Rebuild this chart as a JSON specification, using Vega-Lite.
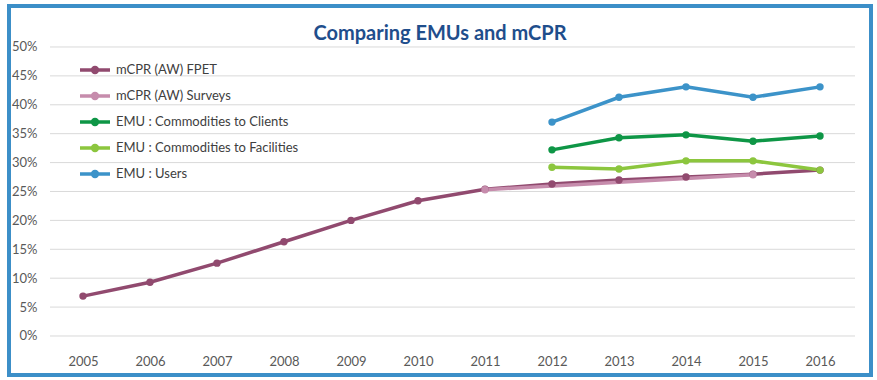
{
  "$schema": "https://vega.github.io/schema/vega-lite/v6.json",
  "width": 862,
  "height": 369,
  "autosize": {"type": "none"},
  "padding": {"left": 9, "top": 6, "right": 6, "bottom": 5},
  "background": "white",
  "title": {
    "text": "Comparing EMUs and mCPR",
    "font": "Lato",
    "fontSize": 20,
    "fontWeight": "bold",
    "color": "#1F4E8C",
    "anchor": "middle",
    "baseline": "middle",
    "offset": 0,
    "dy": 48
  },
  "config": {
    "view": {"stroke": "#3C8FC8", "strokeWidth": 4, "fill": "white"},
    "axis": {"labelFont": "Lato", "labelFontSize": 13, "labelColor": "#595959", "domain": false, "ticks": false, "grid": false, "title": null, "labelOverlap": false}
  },
  "layer": [
    {
      "data": {"values": [{"g": 0}, {"g": 0.05}, {"g": 0.1}, {"g": 0.15}, {"g": 0.2}, {"g": 0.25}, {"g": 0.3}, {"g": 0.35}, {"g": 0.4}, {"g": 0.45}, {"g": 0.5}]},
      "mark": {"type": "rule", "color": "#D9D9D9", "strokeWidth": 1, "xOffset": -33, "x2Offset": 35},
      "encoding": {
        "x": {
          "datum": "2005",
          "type": "ordinal",
          "axis": {"labelAngle": 0, "labelAlign": "center", "labelBaseline": "top", "offset": -25, "labelPadding": 5}
        },
        "x2": {"datum": "2016"},
        "y": {
          "field": "g",
          "type": "quantitative",
          "scale": {"domain": [-0.0675, 0.5709], "nice": false, "zero": false},
          "axis": {"values": [0, 0.05, 0.1, 0.15, 0.2, 0.25, 0.3, 0.35, 0.4, 0.45, 0.5], "tickCount": 11, "format": ".0%", "offset": -30, "labelPadding": 2, "labelFlush": false}
        }
      }
    },
    {
      "data": {"values": [
        {"year": "2005", "series": "mCPR (AW) FPET", "value": 0.069},
        {"year": "2006", "series": "mCPR (AW) FPET", "value": 0.093},
        {"year": "2007", "series": "mCPR (AW) FPET", "value": 0.126},
        {"year": "2008", "series": "mCPR (AW) FPET", "value": 0.163},
        {"year": "2009", "series": "mCPR (AW) FPET", "value": 0.200},
        {"year": "2010", "series": "mCPR (AW) FPET", "value": 0.234},
        {"year": "2011", "series": "mCPR (AW) FPET", "value": 0.254},
        {"year": "2012", "series": "mCPR (AW) FPET", "value": 0.263},
        {"year": "2013", "series": "mCPR (AW) FPET", "value": 0.270},
        {"year": "2014", "series": "mCPR (AW) FPET", "value": 0.275},
        {"year": "2015", "series": "mCPR (AW) FPET", "value": 0.280},
        {"year": "2016", "series": "mCPR (AW) FPET", "value": 0.287},
        {"year": "2011", "series": "mCPR (AW) Surveys", "value": 0.253},
        {"year": "2015", "series": "mCPR (AW) Surveys", "value": 0.279},
        {"year": "2012", "series": "EMU : Commodities to Clients", "value": 0.322},
        {"year": "2013", "series": "EMU : Commodities to Clients", "value": 0.343},
        {"year": "2014", "series": "EMU : Commodities to Clients", "value": 0.348},
        {"year": "2015", "series": "EMU : Commodities to Clients", "value": 0.337},
        {"year": "2016", "series": "EMU : Commodities to Clients", "value": 0.346},
        {"year": "2012", "series": "EMU : Commodities to Facilities", "value": 0.292},
        {"year": "2013", "series": "EMU : Commodities to Facilities", "value": 0.289},
        {"year": "2014", "series": "EMU : Commodities to Facilities", "value": 0.303},
        {"year": "2015", "series": "EMU : Commodities to Facilities", "value": 0.303},
        {"year": "2016", "series": "EMU : Commodities to Facilities", "value": 0.287},
        {"year": "2012", "series": "EMU : Users", "value": 0.370},
        {"year": "2013", "series": "EMU : Users", "value": 0.413},
        {"year": "2014", "series": "EMU : Users", "value": 0.431},
        {"year": "2015", "series": "EMU : Users", "value": 0.413},
        {"year": "2016", "series": "EMU : Users", "value": 0.431}
      ]},
      "mark": {"type": "line", "strokeWidth": 3.5, "point": {"filled": true, "size": 55}},
      "encoding": {
        "x": {
          "field": "year",
          "type": "ordinal",
          "scale": {"type": "point", "padding": 0.9328, "align": 0.592},
          "axis": {"labelAngle": 0, "labelAlign": "center", "labelBaseline": "top", "offset": -25, "labelPadding": 5}
        },
        "y": {
          "field": "value",
          "type": "quantitative",
          "axis": {"values": [0, 0.05, 0.1, 0.15, 0.2, 0.25, 0.3, 0.35, 0.4, 0.45, 0.5], "tickCount": 11, "format": ".0%", "offset": -30, "labelPadding": 2, "labelFlush": false}
        },
        "color": {
          "field": "series",
          "type": "nominal",
          "scale": {
            "domain": ["mCPR (AW) FPET", "mCPR (AW) Surveys", "EMU : Commodities to Clients", "EMU : Commodities to Facilities", "EMU : Users"],
            "range": ["#914A6F", "#C68CAC", "#0E9646", "#8CC63E", "#3C93C9"]
          },
          "legend": {
            "title": null,
            "orient": "none",
            "legendX": 76.5,
            "legendY": 54.5,
            "padding": 0,
            "symbolType": "M-2,0L2,0M-0.33,0A0.33,0.33,0,1,1,0.33,0A0.33,0.33,0,1,1,-0.33,0",
            "symbolSize": 225,
            "symbolStrokeWidth": 3.5,
            "labelFont": "Lato",
            "labelFontSize": 13,
            "labelColor": "#404040",
            "labelOffset": 11.5,
            "rowPadding": 7,
            "labelLimit": 300
          }
        },
        "order": {"field": "year"}
      }
    }
  ]
}
